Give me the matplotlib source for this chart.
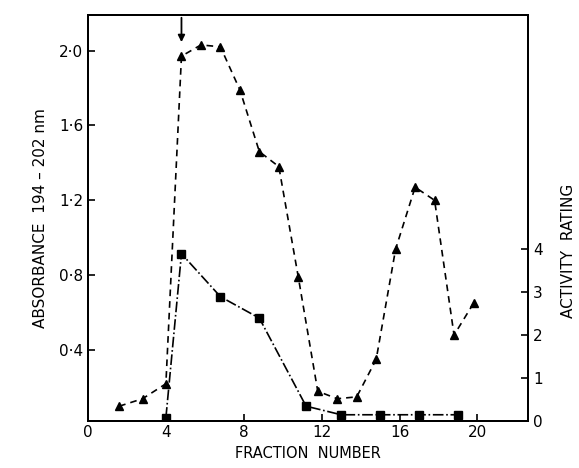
import matplotlib.pyplot as plt
import numpy as np

plt.rcParams["font.family"] = "DejaVu Sans"

# absorbance (triangles)
tri_x = [1.6, 2.8, 4.0, 4.8, 5.8, 6.8, 7.8, 8.8, 9.8, 10.8, 11.8, 12.8, 13.8, 14.8, 15.8, 16.8, 17.8, 18.8, 19.8]
tri_y = [0.10, 0.14, 0.22, 1.97, 2.03, 2.02, 1.79, 1.46, 1.38, 0.79, 0.18, 0.14, 0.15, 0.35, 0.94, 1.27, 1.20, 0.48, 0.65]

# activity rating (squares)
sq_x = [4.0, 4.8, 6.8, 8.8, 11.2, 13.0, 15.0, 17.0, 19.0]
sq_y = [0.08, 3.9, 2.9, 2.4, 0.35, 0.15, 0.15, 0.15, 0.15]

fig, ax = plt.subplots(figsize=(5.79, 4.68), dpi=100)
fig.subplots_adjust(left=0.152, right=0.912, top=0.968, bottom=0.1)

ax.plot(tri_x, tri_y, 'k--', marker='^', ms=6, lw=1.2, dashes=(4, 3))
ax.set_xlim(0, 22.6)
ax.set_ylim(0.02, 2.19)
ax.set_xticks([0, 4, 8, 12, 16, 20])
ax.set_yticks([0.4, 0.8, 1.2, 1.6, 2.0])
ax.set_yticklabels(["0·4", "0·8", "1·2", "1·6", "2·0"])
ax.tick_params(direction='in', length=5, width=1.2, labelsize=11)
ax.tick_params(axis='x', pad=3)
ax.set_ylabel("ABSORBANCE  194 – 202 nm", fontsize=11, labelpad=8)
ax.set_xlabel("FRACTION  NUMBER", fontsize=10.5, labelpad=4)

ax2 = ax.twinx()
ax2.plot(sq_x, sq_y, 'k-.', marker='s', ms=6, lw=1.2)
ax2.set_ylim(0, 9.46)
ax2.set_yticks([0, 1, 2, 3, 4])
ax2.tick_params(direction='in', length=5, width=1.2, labelsize=11)
ax2.set_ylabel("ACTIVITY  RATING", fontsize=11)
ax2.yaxis.set_label_coords(1.075, 0.42)

for a in (ax, ax2):
    for s in a.spines.values():
        s.set_linewidth(1.4)

ax.annotate("", xy=(4.8, 2.03), xytext=(4.8, 2.19),
            arrowprops=dict(arrowstyle='-|>', color='k', lw=1.3))

fig.savefig("out.png")
